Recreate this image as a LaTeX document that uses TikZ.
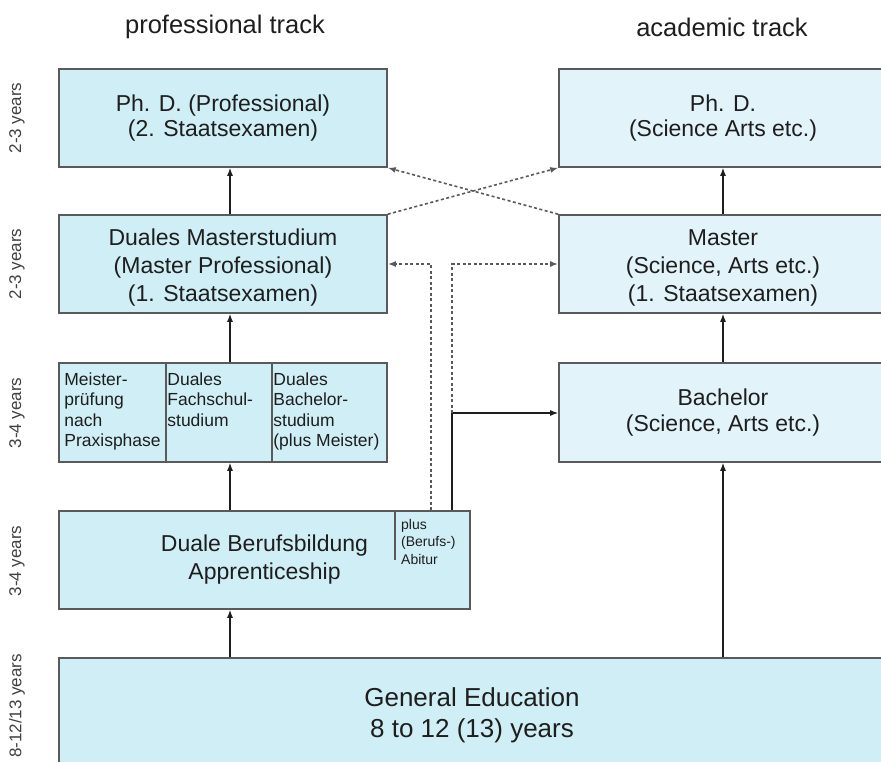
\documentclass[tikz,border=0pt]{standalone}
\usepackage{fontspec}
\setmainfont{Liberation Sans}
\usetikzlibrary{arrows.meta,positioning,calc}

\definecolor{proffill}{HTML}{CFEEF6}
\definecolor{acadfill}{HTML}{E2F4FA}
\definecolor{boxline}{HTML}{5A5A5A}
\definecolor{ink}{HTML}{1E1E1E}

\begin{document}
\begin{tikzpicture}[x=1pt, y=-1pt,
  box/.style={draw=boxline, line width=1.6pt, fill=proffill, minimum width=328pt,
    minimum height=98pt, inner sep=0pt, align=center, text=ink,
    font=\fontsize{23}{25.5}\selectfont},
  abox/.style={box, fill=acadfill},
  cell/.style={draw=boxline, line width=1.6pt, fill=proffill, minimum height=99pt, inner sep=0pt},
  small/.style={font=\fontsize{17.5}{20.5}\selectfont, align=left, anchor=north west,
    inner sep=0pt, text=ink},
  tiny/.style={small, font=\fontsize{14}{17.5}\selectfont},
  years/.style={rotate=90, font=\fontsize{17}{20}\selectfont, text=black!75},
  track/.style={font=\fontsize{25.5}{30}\selectfont, text=ink},
  arr/.style={-{Latex[length=8pt,width=6pt]}, line width=1.3pt, draw=ink},
  darr/.style={arr, dash pattern=on 3pt off 2.5pt, draw=black!65, line width=1.6pt}
]
  \useasboundingbox (0,0) rectangle (881,761);
  \clip (0,0) rectangle (881,761);

  % columns of the arrows
  \coordinate (colp) at (230,0);
  \coordinate (cola) at (723,0);
  \coordinate (dl) at (431,0);
  \coordinate (dr) at (452,0);

  \node[track] (tprof) at (225,27) {professional track};
  \node[track] (tacad) at (722,27) {academic track};

  % professional track
  \node[box] (pprof) at (223,118) {Ph. D. (Professional)\\(2. Staatsexamen)};
  \node[box, font=\fontsize{23}{28}\selectfont] (mprof) at (223,264)
    {\\[-4pt]Duales Masterstudium\\(Master Professional)\\(1. Staatsexamen)};
  \node[cell, minimum width=107pt] (meister) at (112.5,412.5) {};
  \node[cell, minimum width=106pt] (fachschul) at (219,412.5) {};
  \node[cell, minimum width=115pt] (dualba) at (329.5,412.5) {};
  \node[small] at ($(meister.north west)+(6,10)$) {Meister-\\prüfung\\nach\\Praxisphase};
  \node[small] at ($(fachschul.north west)+(2,10)$) {Duales\\Fachschul-\\studium};
  \node[small] at ($(dualba.north west)+(2,10)$) {Duales\\Bachelor-\\studium\\(plus Meister)};
  \node[box, minimum width=411pt, font=\fontsize{23}{28}\selectfont] (berufs) at (264.5,560)
    {Duale Berufsbildung\\Apprenticeship};
  \draw[draw=boxline, line width=1.6pt] (395,511) -- (395,560);
  \node[tiny] (abitur) at (401,519) {plus\\(Berufs-)\\Abitur};

  % academic track
  \node[abox] (pacad) at (723,118) {Ph. D.\\(Science Arts etc.)};
  \node[abox, font=\fontsize{23}{28}\selectfont] (macad) at (723,264)
    {\\[-4pt]Master\\(Science, Arts etc.)\\(1. Staatsexamen)};
  \node[abox, minimum height=99pt] (bach) at (723,412.5) {Bachelor\\(Science, Arts etc.)};

  \node[box, minimum width=826pt, minimum height=110pt] (gened) at (472,713) {};
  \node[text=ink, align=center, font=\fontsize{26}{31}\selectfont] (gentext) at (472,715)
    {General Education\\8 to 12 (13) years};

  % years
  \node[years] at (17,118) {2-3 years};
  \node[years] at (17,264) {2-3 years};
  \node[years] at (17,413) {3-4 years};
  \node[years] at (17,561) {3-4 years};
  \node[years] at (17,706) {8-12/13 years};

  % arrows
  \draw[arr] (gened.north -| colp) -- (berufs.south -| colp);
  \draw[arr] (berufs.north -| colp) -- (fachschul.south -| colp);
  \draw[arr] (fachschul.north -| colp) -- (mprof.south -| colp);
  \draw[arr] (mprof.north -| colp) -- (pprof.south -| colp);
  \draw[arr] (gened.north -| cola) -- (bach.south -| cola);
  \draw[arr] (bach.north -| cola) -- (macad.south -| cola);
  \draw[arr] (macad.north -| cola) -- (pacad.south -| cola);

  \draw[darr] (mprof.north east) -- (pacad.south west);
  \draw[darr] (macad.north west) -- (pprof.south east);

  \coordinate (jn) at (452,413);
  \draw[arr] (berufs.north -| dr) -- (jn) -- (bach.west |- jn);
  \draw[darr] (berufs.north -| dl) -- (431,264) -- (mprof.east);
  \draw[darr] (jn) -- (452,264) -- (macad.west);
\end{tikzpicture}
\end{document}
